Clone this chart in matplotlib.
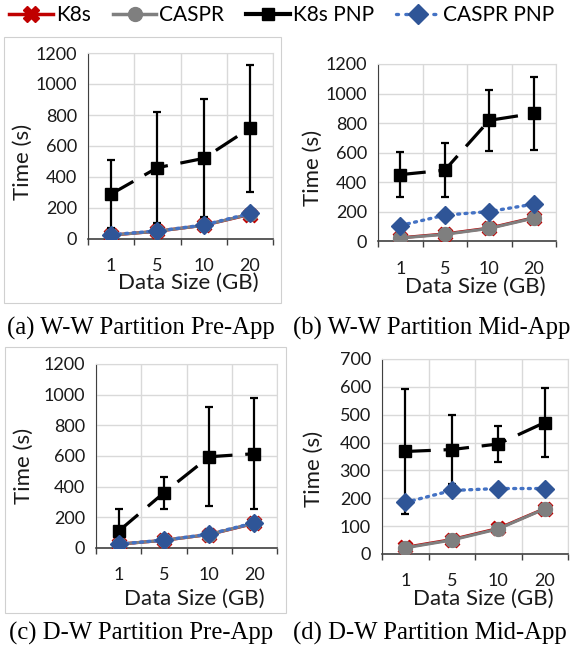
import matplotlib
matplotlib.use("Agg")
import matplotlib.pyplot as plt
from matplotlib.lines import Line2D
from matplotlib.patches import Rectangle

plt.rcParams['font.family'] = ['Lato', 'DejaVu Sans']

W, H = 576, 660

sizes = ['1', '5', '10', '20']

# (a) W-W Partition Pre-App
a_k8s = [25, 50, 88, 158]
a_caspr = [25, 50, 88, 160]
a_k8s_pnp = [290, 460, 520, 715]
a_k8s_pnp_err = [220, 360, 380, 410]
a_caspr_pnp = [28, 52, 90, 165]

# (b) W-W Partition Mid-App
b_k8s = [22, 48, 88, 158]
b_caspr = [20, 45, 85, 155]
b_k8s_pnp = [450, 480, 818, 865]
b_k8s_pnp_err = [153, 182, 205, 250]
b_caspr_pnp = [105, 175, 200, 250]

# (c) D-W Partition Pre-App
c_k8s = [25, 50, 88, 160]
c_caspr = [25, 50, 88, 162]
c_k8s_pnp = [110, 360, 595, 615]
c_k8s_pnp_err = [145, 103, 323, 362]
c_caspr_pnp = [25, 52, 90, 165]

# (d) D-W Partition Mid-App
d_k8s = [24, 52, 92, 163]
d_caspr = [22, 50, 90, 162]
d_k8s_pnp = [368, 375, 395, 472]
d_k8s_pnp_err = [224, 124, 65, 125]
d_caspr_pnp = [185, 228, 235, 235]

captions = ['(a) W-W Partition Pre-App', '(b) W-W Partition Mid-App',
            '(c) D-W Partition Pre-App', '(d) D-W Partition Mid-App']

RED = '#C00000'
GRAY = '#7F7F7F'
BLUE_LINE = '#4472C4'
BLUE_MK = '#2F5597'
GRID = '#D9D9D9'


def box(l, t, r, b):
    return [l / W, 1 - b / H, (r - l) / W, (b - t) / H]


fig = plt.figure(figsize=(W / 100, H / 100), dpi=100)

# faint chart-area borders
for (l, t, r, b) in [(4, 37, 281, 303), (5, 347, 286, 613)]:
    fig.patches.append(Rectangle((l / W, 1 - b / H), (r - l) / W, (b - t) / H,
                                 transform=fig.transFigure, fill=False,
                                 edgecolor='#D0D0D0', lw=0.8))

panels = [
    dict(pos=(88, 53, 273, 239), ymax=1200, step=200,
         data=(a_k8s, a_caspr, a_k8s_pnp, a_k8s_pnp_err, a_caspr_pnp),
         tick_y=266, xl_y=283, yl=(23, 162), cap=(141, 328)),
    dict(pos=(378, 64, 556, 241), ymax=1200, step=200,
         data=(b_k8s, b_caspr, b_k8s_pnp, b_k8s_pnp_err, b_caspr_pnp),
         tick_y=269, xl_y=287, yl=(313, 168), cap=(432, 328)),
    dict(pos=(96, 364, 277, 548), ymax=1200, step=200,
         data=(c_k8s, c_caspr, c_k8s_pnp, c_k8s_pnp_err, c_caspr_pnp),
         tick_y=575, xl_y=599, yl=(24, 466), cap=(141, 633)),
    dict(pos=(382, 359, 568, 554), ymax=700, step=100,
         data=(d_k8s, d_caspr, d_k8s_pnp, d_k8s_pnp_err, d_caspr_pnp),
         tick_y=581, xl_y=599, yl=(314, 469), cap=(430, 633)),
]

x = list(range(len(sizes)))

for i, p in enumerate(panels):
    ax = fig.add_axes(box(*p['pos']))
    k8s, caspr, pnp, pnp_err, cpnp = p['data']

    ax.plot(x, k8s, color=RED, lw=2.2, marker='X', ms=10.5, mfc=RED, mec=RED,
            zorder=3)
    ax.plot(x, caspr, color=GRAY, lw=2.2, marker='o', ms=10, mfc=GRAY,
            mec=GRAY, zorder=4)
    ax.errorbar(x, pnp, yerr=pnp_err, color='black', lw=2.3,
                dashes=(8, 4), marker='s', ms=9, ecolor='black',
                elinewidth=1.6, capsize=3, capthick=1.6, zorder=5)
    ax.plot(x, cpnp, color=BLUE_LINE, lw=2.4, linestyle=(0, (0.6, 1.6)),
            dash_capstyle='round', marker='D', ms=9.5, mfc=BLUE_MK,
            mec=BLUE_MK, zorder=6)

    ax.set_xlim(-0.5, len(sizes) - 0.5)
    ax.set_ylim(0, p['ymax'])
    ax.set_yticks(range(0, p['ymax'] + 1, p['step']))
    ax.set_xticks([v - 0.5 for v in range(len(sizes) + 1)])
    ax.set_xticklabels([])
    ax.tick_params(axis='x', which='major', direction='out', length=4.5,
                   width=1, color='#404040')
    ax.tick_params(axis='y', length=0, pad=8, labelsize=13, labelcolor='#1a1a1a')
    ax.grid(True, color=GRID, lw=1)
    ax.set_axisbelow(True)
    for s in ['top', 'right']:
        ax.spines[s].set_color(GRID)
    ax.spines['left'].set_color('#404040')
    ax.spines['bottom'].set_color('#404040')
    ax.spines['bottom'].set_linewidth(1.2)

    # category labels and titles in pixel positions
    l, t, r, b = p['pos']
    for j, lab in enumerate(sizes):
        xc = l + (j + 0.5) * (r - l) / len(sizes)
        fig.text(xc / W, 1 - p['tick_y'] / H, lab, ha='center', va='center',
                 fontsize=13, color='#1a1a1a')
    fig.text(((l + r) / 2 + 8) / W, 1 - p['xl_y'] / H, 'Data Size (GB)',
             ha='center', va='center', fontsize=16, color='#1a1a1a')
    fig.text(p['yl'][0] / W, 1 - p['yl'][1] / H, 'Time (s)', rotation=90,
             ha='center', va='center', fontsize=16, color='#1a1a1a')
    fig.text(p['cap'][0] / W, 1 - p['cap'][1] / H, captions[i],
             ha='center', va='center', fontsize=17.8,
             family=['Liberation Serif', 'DejaVu Serif'])

handles = [
    Line2D([], [], color=RED, lw=2.5, marker='X', ms=11, mfc=RED, mec=RED),
    Line2D([], [], color=GRAY, lw=2.5, marker='o', ms=10, mfc=GRAY, mec=GRAY),
    Line2D([], [], color='black', lw=3, marker='s', ms=9),
    Line2D([], [], color=BLUE_LINE, lw=2.4, linestyle=(0, (0.6, 2.2)),
           dash_capstyle='round', marker='D', ms=10, mfc=BLUE_MK, mec=BLUE_MK),
]
fig.legend(handles, ['K8s', 'CASPR', 'K8s PNP', 'CASPR PNP'], ncol=4,
           loc='center left', bbox_to_anchor=(9 / W, 1 - 15 / H),
           frameon=False, fontsize=15, handlelength=2.1, handletextpad=0.15,
           columnspacing=1.05, borderaxespad=0, borderpad=0)

fig.savefig('out.png', dpi=100)
